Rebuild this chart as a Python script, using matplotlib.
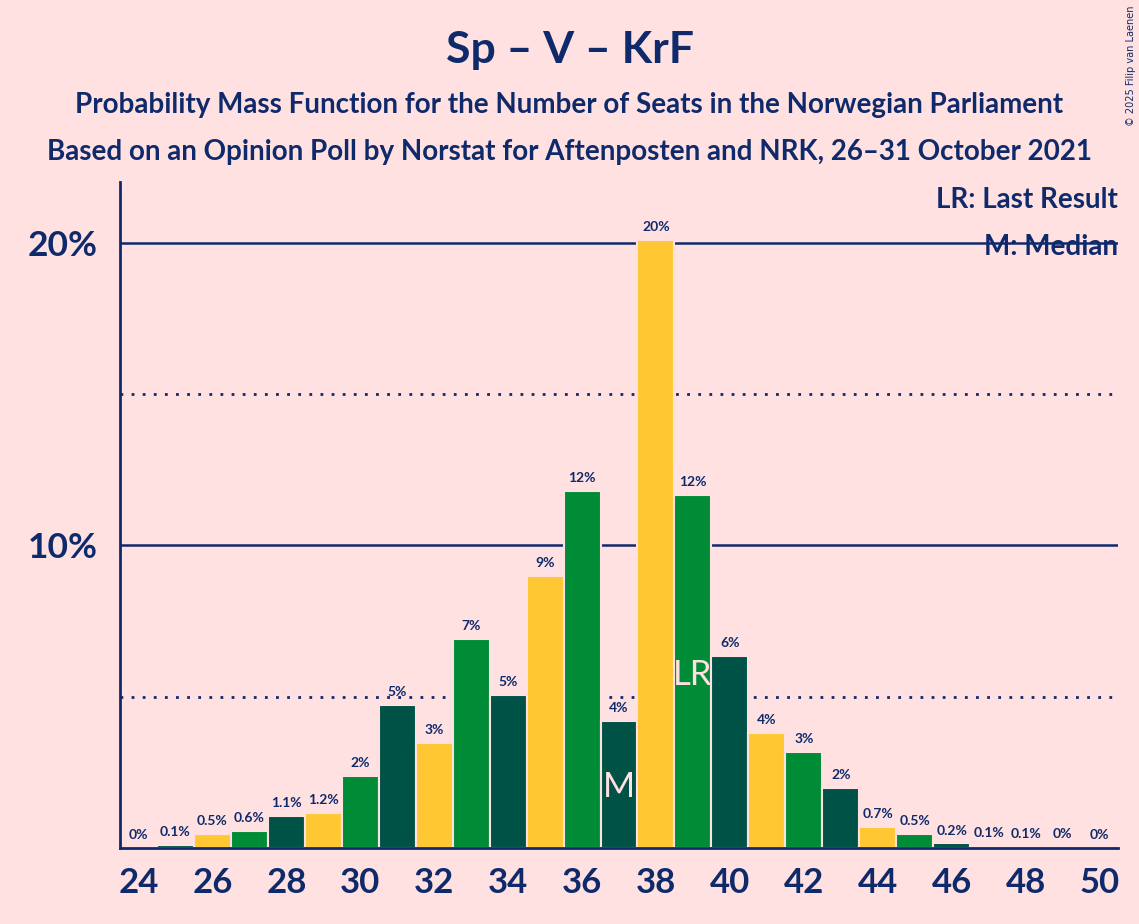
import matplotlib
matplotlib.use("Agg")
import matplotlib.pyplot as plt

seats = list(range(24, 51))
probs = [0.0, 0.1, 0.45, 0.56, 1.05, 1.15, 2.39, 4.71, 3.46, 6.91, 5.04, 8.98, 11.78,
         4.19, 20.1, 11.65, 6.34, 3.8, 3.18, 1.99, 0.7, 0.46, 0.15, 0.08, 0.05, 0.02, 0.01]
labels = ["0%", "0.1%", "0.5%", "0.6%", "1.1%", "1.2%", "2%", "5%", "3%", "7%", "5%", "9%", "12%",
          "4%", "20%", "12%", "6%", "4%", "3%", "2%", "0.7%", "0.5%", "0.2%", "0.1%", "0.1%", "0%", "0%"]
xticks = list(range(24, 51, 2))
yticks = [10, 20]
ytick_labels = ["10%", "20%"]
last_result = 39
median = 37

BG = "#FFE1E1"
NAVY = "#0F2A6B"
palette = ["#005247", "#FFC832", "#008C37"]  # dark green, yellow, green
colors = [palette[(s - 25) % 3] for s in seats]

plt.rcParams['font.family'] = ['Lato', 'DejaVu Sans']

fig = plt.figure(figsize=(11.39, 9.24), dpi=100, facecolor=BG)
ax = fig.add_axes([120/1139, 76/924, (1118-120)/1139, (848-182)/924])
ax.set_facecolor(BG)

# gridlines
for y in [5, 15]:
    ax.axhline(y, color=NAVY, linestyle=(0, (1, 3)), linewidth=2, zorder=1)
for y in [10, 20]:
    ax.axhline(y, color=NAVY, linestyle='-', linewidth=1.8, zorder=1)

ax.bar(seats, probs, width=1.0, color=colors, edgecolor=BG, linewidth=1.5, zorder=2)

for s, p, l in zip(seats, probs, labels):
    ax.annotate(l, (s, p), xytext=(0, 5), textcoords='offset points', ha='center', va='bottom',
                fontsize=10, fontweight='bold', color=NAVY, zorder=3)

ax.text(last_result, 5.7, "LR", ha='center', va='center', fontsize=25, color=BG, zorder=3)
ax.text(median, 2.0, "M", ha='center', va='center', fontsize=25, color=BG, zorder=3)

ax.set_xlim(23.5, 50.5)
ax.set_ylim(0, 22)
ax.set_xticks(xticks)
ax.set_xticklabels([str(x) for x in xticks], fontsize=25, fontweight='bold', color=NAVY)
ax.set_yticks(yticks)
ax.set_yticklabels(ytick_labels, fontsize=25.5, fontweight='bold', color=NAVY)
ax.tick_params(axis='both', length=0)
ax.tick_params(axis='x', pad=14)
ax.tick_params(axis='y', pad=16)

for side in ['top', 'right']:
    ax.spines[side].set_visible(False)
for side in ['left', 'bottom']:
    ax.spines[side].set_color(NAVY)
    ax.spines[side].set_linewidth(2)
    ax.spines[side].set_zorder(4)

fig.text(0.5, 1 - 50/924, "Sp – V – KrF", ha='center', va='center', fontsize=32,
         fontweight='bold', color=NAVY)
fig.text(0.5, 1 - 105/924, "Probability Mass Function for the Number of Seats in the Norwegian Parliament",
         ha='center', va='center', fontsize=20, fontweight='bold', color=NAVY)
fig.text(0.5, 1 - 152/924, "Based on an Opinion Poll by Norstat for Aftenposten and NRK, 26–31 October 2021",
         ha='center', va='center', fontsize=20, fontweight='bold', color=NAVY)

fig.text(1118/1139, 1 - 200/924, "LR: Last Result", ha='right', va='center', fontsize=20,
         fontweight='bold', color=NAVY)
fig.text(1118/1139, 1 - 247/924, "M: Median", ha='right', va='center', fontsize=20,
         fontweight='bold', color=NAVY)

fig.text(1131/1139, 1 - 5/924, "© 2025 Filip van Laenen", ha='center', va='top', rotation=90,
         fontsize=7, color=NAVY, family=['DejaVu Sans'])

fig.savefig("out.png", dpi=100, facecolor=BG)
